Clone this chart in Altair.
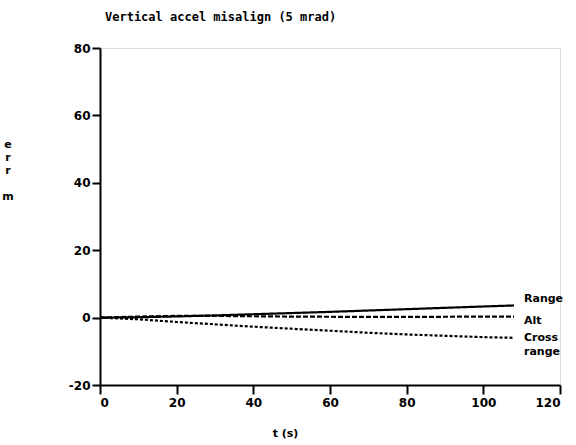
import altair as alt
import pandas as pd

# time samples (s)
t_vals = [0, 10, 20, 30, 40, 50, 60, 70, 80, 90, 100, 108]
# error (m)
range_err = [0.0, 0.1, 0.35, 0.65, 1.0, 1.35, 1.7, 2.1, 2.5, 2.9, 3.3, 3.6]
alt_err = [0.0, 0.3, 0.5, 0.5, 0.4, 0.3, 0.25, 0.2, 0.2, 0.25, 0.3, 0.3]
cross_err = [0.0, -0.5, -1.3, -2.0, -2.7, -3.3, -3.9, -4.5, -5.0, -5.4, -5.8, -6.0]

series_names = ["Range", "Alt", "Cross range"]
series_values = [range_err, alt_err, cross_err]
end_labels = ["Range", "Alt", "Cross\nrange"]
# vertical y-axis title "err, m" written letter by letter
y_title_chars = ["e", "r", "r", "m"]
y_title_rows = [0, 1, 2, 4]

rows = []
for name, vals in zip(series_names, series_values):
    for t, v in zip(t_vals, vals):
        rows.append({"t": t, "err": v, "series": name})
df = pd.DataFrame(rows)

end_rows = [{"t": t_vals[-1], "err": vals[-1], "series": n, "label": lab}
            for n, vals, lab in zip(series_names, series_values, end_labels)]
df_end = pd.DataFrame(end_rows)

FONT = "DejaVu Sans"

x_scale = alt.Scale(domain=[0, 120], nice=False, zero=False)
y_scale = alt.Scale(domain=[-20, 80], nice=False, zero=False)

x_axis = alt.Axis(
    values=list(range(0, 121, 10)),
    labelExpr="datum.value % 20 === 0 ? toString(datum.value) : ''",
    tickSize={"condition": {"test": "datum.value % 20 === 0", "value": 9}, "value": 5},
    title="t (s)",
    titleX=185, titleY=48, titleAlign="center", titleBaseline="middle",
    titleFont=FONT, titleFontSize=11, titleFontWeight="bold",
    labelFont=FONT, labelFontSize=12, labelFontWeight="bold", labelPadding=3,
    grid=False, domainWidth=2, tickWidth=2, domainColor="black", tickColor="black",
    labelColor="black", titleColor="black",
)
y_axis = alt.Axis(
    values=list(range(-20, 81, 10)),
    labelExpr="datum.value % 20 === 0 ? toString(datum.value) : ''",
    tickSize={"condition": {"test": "datum.value % 20 === 0", "value": 8}, "value": 5},
    title=None,
    labelFont=FONT, labelFontSize=12, labelFontWeight="bold", labelPadding=2,
    grid=False, domainWidth=2, tickWidth=2, domainColor="black", tickColor="black",
    labelColor="black",
)

base = alt.Chart(df)
lines = base.mark_line(color="black", strokeWidth=2.2).encode(
    x=alt.X("t:Q", scale=x_scale, axis=x_axis),
    y=alt.Y("err:Q", scale=y_scale, axis=y_axis),
    strokeDash=alt.StrokeDash(
        "series:N",
        scale=alt.Scale(domain=series_names, range=[[1, 0], [5, 2], [3, 2]]),
        legend=None,
    ),
    detail="series:N",
)

label_range = alt.Chart(df_end).transform_filter(
    "datum.series === 'Range'"
).mark_text(
    align="left", baseline="middle", dx=10, dy=-6, font=FONT, fontSize=11,
    fontWeight="bold", color="black",
).encode(x="t:Q", y="err:Q", text="label:N")

label_alt = alt.Chart(df_end).transform_filter(
    "datum.series === 'Alt'"
).mark_text(
    align="left", baseline="middle", dx=10, dy=4, font=FONT, fontSize=11,
    fontWeight="bold", color="black",
).encode(x="t:Q", y="err:Q", text="label:N")

labels_cross = alt.Chart(df_end).transform_filter(
    "datum.series === 'Cross range'"
).mark_text(
    align="left", baseline="top", dx=10, dy=-6, font=FONT, fontSize=11,
    fontWeight="bold", color="black", lineBreak="\n", lineHeight=14,
).encode(x="t:Q", y="err:Q", text="label:N")

y_title_layers = []
for ch, r in zip(y_title_chars, y_title_rows):
    y_title_layers.append(
        alt.Chart(pd.DataFrame({"label": [ch]})).mark_text(
            align="center", baseline="top", font=FONT, fontSize=11,
            fontWeight="bold", color="black",
        ).encode(x=alt.value(-92), y=alt.value(91 + 13 * r), text="label:N")
    )

chart = alt.layer(
    lines, label_range, label_alt, labels_cross, *y_title_layers
).properties(
    width=460,
    height=337,
    autosize=alt.AutoSizeParams(type="none"),
    padding={"left": 100, "top": 48, "right": 16, "bottom": 60},
    title=alt.TitleParams(
        "Vertical accel misalign (5 mrad)",
        anchor="start", frame="group", dx=5, offset=18,
        font="DejaVu Sans Mono", fontSize=12, fontWeight="bold", color="black",
    ),
).configure_view(stroke=None).configure(background="white")

chart.save("out.html", embed_options={"renderer": "svg", "actions": False})
